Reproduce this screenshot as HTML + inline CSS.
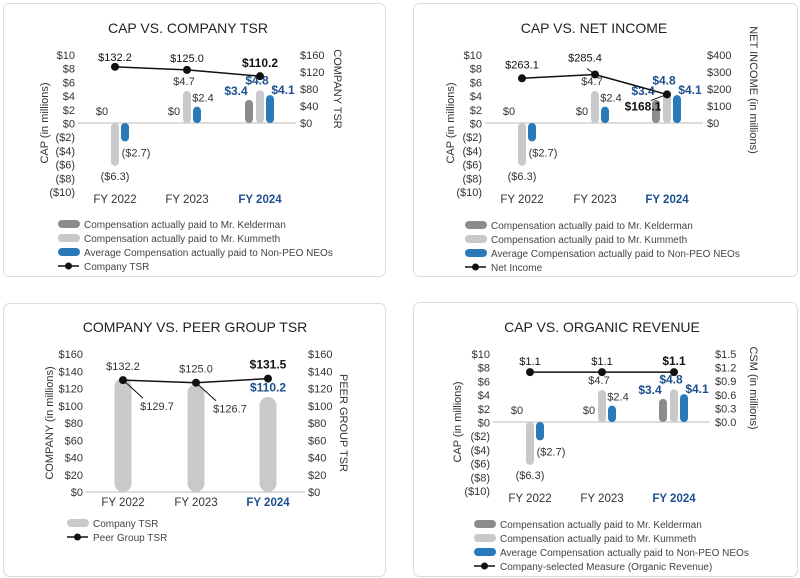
<!DOCTYPE html>
<html><head><meta charset="utf-8"><style>
html,body{margin:0;padding:0;background:#fff;}
svg{display:block;font-family:"Liberation Sans",sans-serif;}
</style></head><body>
<svg id="chart" width="800" height="578" viewBox="0 0 800 578" xmlns="http://www.w3.org/2000/svg"></svg>
<script>
const years = ["FY 2022","FY 2023","FY 2024"];
const kelderman = [0, 0, 3.4];
const kummeth = [-6.3, 4.7, 4.8];
const nonPeo = [-2.7, 2.4, 4.1];
const companyTsr = [132.2, 125.0, 110.2];
const netIncome = [263.1, 285.4, 168.1];
const csm = [1.1, 1.1, 1.1];
const peerTsr = [129.7, 126.7, 131.5];
const capTicks = ["$10","$8","$6","$4","$2","$0","($2)","($4)","($6)","($8)","($10)"];
const tsrTicks = ["$160","$120","$80","$40","$0"];
const niTicks = ["$400","$300","$200","$100","$0"];
const csmTicks = ["$1.5","$1.2","$0.9","$0.6","$0.3","$0.0"];
const peerTicks = ["$160","$140","$120","$100","$80","$60","$40","$20","$0"];

const NS="http://www.w3.org/2000/svg";
const svg=document.getElementById('chart');
const BLUE="#2a79b9", DGRAY="#8c8c8e", LGRAY="#c9c9cb", NAVY="#1d4f8f", TXT="#333";
function el(tag,attrs,parent){const e=document.createElementNS(NS,tag);for(const k in attrs)e.setAttribute(k,attrs[k]);(parent||svg).appendChild(e);return e;}
function txt(s,x,y,o,parent){o=o||{};const t=el('text',{x:x,y:y,'font-size':o.size||11,fill:o.fill||TXT,'text-anchor':o.anchor||'middle','font-weight':o.bold?'bold':'normal'},parent);if(o.rot)t.setAttribute('transform','rotate('+o.rot+' '+x+' '+y+')');t.textContent=s;return t;}
function fmt(v,d){return v<0?'($'+Math.abs(v).toFixed(d)+')':'$'+v.toFixed(d);}
function fmt0(v){return v===0?'$0':fmt(v,1);}
function bar(g,cx,y0,y1,w,fill,name){const top=Math.min(y0,y1),h=Math.max(Math.abs(y1-y0),1);const r=el('rect',{x:cx-w/2,y:top,width:w,height:h,rx:w/2,ry:Math.min(w/2,h/2),fill:fill},g);return r;}
function card(x,y,w,h,name){const g=el('g',{});
 el('rect',{x:x+0.5,y:y+0.5,width:w,height:h,rx:6,fill:'#fff',stroke:'#dcdcdc'},g);return g;}
function legend(g,x,y,items){items.forEach((it,i)=>{const yy=y+i*14;const lg=el('g',{},g);
 if(it.type==='line'){el('line',{x1:x,y1:yy,x2:x+21,y2:yy,stroke:'#111','stroke-width':1.5},lg);el('circle',{cx:x+10.5,cy:yy,r:3.5,fill:'#111'},lg);}
 else el('rect',{x:x,y:yy-4,width:22,height:8,rx:4,fill:it.color},lg);
 txt(it.label,x+26,yy+4,{anchor:'start',size:10,fill:'#444'},lg);});}

function capPanel(P){
 const g=card(P.cx,P.cy,P.cw,P.ch,P.name);
 txt(P.title,P.tx,P.ty,{size:14,fill:'#222'},g);
 const y0=P.zero, pu=6.8;
 const ys=v=>y0-v*pu;
 const ry=v=>y0-v/P.rmax*68;
 capTicks.forEach((t,i)=>txt(t,P.lx,y0-68+i*13.7+4,{anchor:'end'},g));
 P.rticks.forEach((t,i)=>txt(t,P.rx,y0-68+i*(68/(P.rticks.length-1))+4,{anchor:'start'},g));
 el('line',{x1:P.bx0,y1:y0,x2:P.bx1,y2:y0,stroke:'#bbb'},g);
 txt('CAP (in millions)',P.atx,y0,{rot:-90},g);
 txt(P.rtitle,P.rtx,P.rty,{rot:90},g);
 years.forEach((yr,i)=>{const c=P.cats[i];const last=i===2;
  txt(yr,c,203+P.dy,{bold:last,fill:last?NAVY:TXT,size:11.5},g);
  const lab={bold:last,fill:last?NAVY:TXT,size:last?12:11};
  if(kelderman[i]!==0){bar(g,c-11,y0,ys(kelderman[i]),8,DGRAY,'bar-kelderman');}
  if(last){txt(fmt0(kelderman[i]),c-24,ys(kelderman[i])-5,lab,g);}
  else txt('$0',c-13,y0-8,lab,g);
  bar(g,c,y0,ys(kummeth[i]),8,LGRAY,'bar-kummeth');
  if(kummeth[i]<0) txt(fmt0(kummeth[i]),c,ys(kummeth[i])+14,lab,g); else txt(fmt0(kummeth[i]),c-3,ys(kummeth[i])-6,lab,g);
  bar(g,c+10,y0,ys(nonPeo[i]),8,BLUE,'bar-non-peo');
  if(nonPeo[i]<0) txt(fmt0(nonPeo[i]),c+21,ys(nonPeo[i])+15,lab,g);
  else if(last) txt(fmt0(nonPeo[i]),c+23,ys(nonPeo[i])-1,lab,g);
  else txt(fmt0(nonPeo[i]),c+16,ys(nonPeo[i])-5,lab,g);
 });
 const pts=P.line.map((v,i)=>[P.cats[i],ry(v)]);
 const pl=el('polyline',{points:pts.map(p=>p.join(',')).join(' '),fill:'none',stroke:'#111','stroke-width':1.5},g);
 
 pts.forEach((p,i)=>{const c=el('circle',{cx:p[0],cy:p[1],r:4,fill:'#111'},g);
  const o=P.lab[i];const s=fmt(P.line[i],1);
  if(o.lead) el('line',{x1:p[0],y1:p[1],x2:p[0]+o.lead[0],y2:p[1]+o.lead[1],stroke:'#111'},g);
  txt(s,p[0]+o.dx,p[1]+o.dy,{bold:i===2,fill:'#111',size:i===2?12:11},g);});
 legend(g,P.lgx,P.lgy,[{color:DGRAY,label:'Compensation actually paid to Mr. Kelderman'},{color:LGRAY,label:'Compensation actually paid to Mr. Kummeth'},{color:BLUE,label:'Average Compensation actually paid to Non-PEO NEOs'},{type:'line',label:P.lineLabel}]);
}

capPanel({name:'panel-cap-vs-tsr',cx:3,cy:3,cw:382,ch:273,title:'CAP VS. COMPANY TSR',tx:188,ty:33,zero:123,lx:75,rx:300,bx0:78,bx1:296,
 atx:48,rtitle:'COMPANY TSR',rtx:334,rty:89,cats:[115,187,260],dy:0,rmax:160,rticks:tsrTicks,line:companyTsr,
 lab:[{dx:0,dy:-6},{dx:0,dy:-8},{dx:0,dy:-9}],lgx:58,lgy:224,lineLabel:'Company TSR'});
capPanel({name:'panel-cap-vs-net-income',cx:413,cy:3,cw:384,ch:273,title:'CAP VS. NET INCOME',tx:594,ty:33,zero:123,lx:482,rx:707,bx0:485,bx1:703,
 atx:454,rtitle:'NET INCOME (in millions)',rtx:750,rty:90,cats:[522,595,667],dy:0,rmax:400,rticks:niTicks,line:netIncome,
 lab:[{dx:0,dy:-10},{dx:-10,dy:-13,lead:[-8,-6]},{dx:-24,dy:16,lead:[-16,6]}],lgx:465,lgy:225,lineLabel:'Net Income'});
capPanel({name:'panel-cap-vs-organic-revenue',cx:413,cy:302,cw:384,ch:274,title:'CAP VS. ORGANIC REVENUE',tx:602,ty:332,zero:422,lx:490,rx:715,bx0:493,bx1:710,
 atx:461,rtitle:'CSM (in millions)',rtx:750,rty:388,cats:[530,602,674],dy:299,rmax:1.5,rticks:csmTicks,line:csm,
 lab:[{dx:0,dy:-7},{dx:0,dy:-7},{dx:0,dy:-7}],lgx:474,lgy:524,lineLabel:'Company-selected Measure (Organic Revenue)'});

// Peer group panel
(function(){
 const g=card(3,303,382,273,'panel-company-vs-peer-tsr');
 txt('COMPANY VS. PEER GROUP TSR',195,332,{size:14,fill:'#222'},g);
 const y0=492,top=354;const ys=v=>y0-v/160*(y0-top);
 peerTicks.forEach((t,i)=>{const yy=top+i*(y0-top)/8+4;txt(t,83,yy,{anchor:'end'},g);txt(t,308,yy,{anchor:'start'},g);});
 el('line',{x1:85,y1:y0,x2:305,y2:y0,stroke:'#bbb'},g);
 txt('COMPANY (in millions)',53,423,{rot:-90},g);
 txt('PEER GROUP TSR',340,423,{rot:90},g);
 const cats=[123,196,268];
 years.forEach((yr,i)=>{const last=i===2;const c=cats[i];
  txt(yr,c,506,{bold:last,fill:last?NAVY:TXT,size:11.5},g);
  bar(g,c,y0,ys(companyTsr[i]),17,LGRAY,'bar-company-tsr');});
 const pts=peerTsr.map((v,i)=>[cats[i],ys(v)]);
 const pl=el('polyline',{points:pts.map(p=>p.join(',')).join(' '),fill:'none',stroke:'#111','stroke-width':1.5},g);
 
 pts.forEach((p,i)=>{const c=el('circle',{cx:p[0],cy:p[1],r:4,fill:'#111'},g);
  if(i<2){txt(fmt(companyTsr[i],1),p[0],p[1]-10,{},g);
   el('line',{x1:p[0],y1:p[1],x2:p[0]+20,y2:p[1]+18,stroke:'#111'},g);
   txt(fmt(peerTsr[i],1),p[0]+34,p[1]+30,{},g);}
  else{txt(fmt(peerTsr[i],1),p[0],p[1]-10,{bold:true,fill:'#111',size:12},g);
   txt(fmt(companyTsr[i],1),p[0],p[1]+13,{bold:true,fill:NAVY,size:12},g);}});
 legend(g,67,523,[{color:LGRAY,label:'Company TSR'},{type:'line',label:'Peer Group TSR'}]);
})();
</script>
</body></html>
